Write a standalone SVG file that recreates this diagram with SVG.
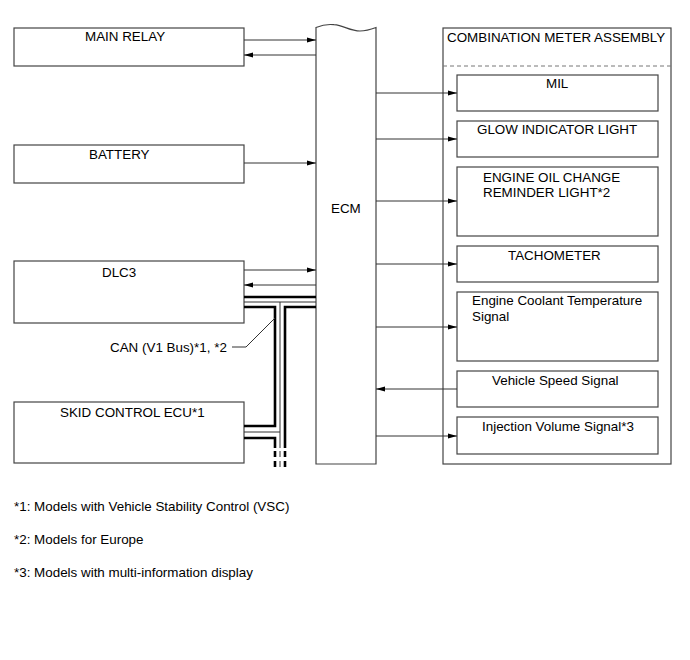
<svg xmlns="http://www.w3.org/2000/svg" width="690" height="660" viewBox="0 0 690 660">
<defs>
<style>
.box{fill:#fff;stroke:#444;stroke-width:1.2}
.t{font-family:"Liberation Sans",Arial,sans-serif;font-size:13.4px;fill:#000}
.ln{stroke:#333;stroke-width:1;fill:none}
.thick{stroke:#000;stroke-width:2.6;fill:none}
.thin{stroke:#333;stroke-width:1;fill:none}
</style>
<marker id="ah" markerUnits="userSpaceOnUse" markerWidth="9" markerHeight="6" refX="9" refY="3" orient="auto">
<path d="M0,0.5 L9,3 L0,5.5 z" fill="#000"/>
</marker>
</defs>
<rect width="690" height="660" fill="#fff"/>

<g id="main-relay"><rect class="box" x="14" y="28" width="230" height="38"/><text class="t" x="85" y="41">MAIN RELAY</text></g>
<g id="battery"><rect class="box" x="14" y="145" width="230" height="38"/><text class="t" x="89" y="159">BATTERY</text></g>
<g id="dlc3"><rect class="box" x="14" y="261" width="230" height="62"/><text class="t" x="102" y="277">DLC3</text></g>
<g id="skid"><rect class="box" x="14" y="402" width="230" height="61"/><text class="t" x="60" y="417">SKID CONTROL ECU*1</text></g>

<g id="ecm"><path class="box" d="M316,27.5 C322,25 328,24 334,24.7 C344,25.5 350,31 360,31 C366,31 372,29 376,27.5 V464 H316 Z"/><text class="t" x="331" y="213">ECM</text></g>

<g id="combination-meter">
<rect class="box" x="443" y="28" width="228" height="436"/>
<text class="t" x="447" y="42">COMBINATION METER ASSEMBLY</text>
<line x1="443" y1="66" x2="671" y2="66" stroke="#777" stroke-width="1" stroke-dasharray="4,3"/>
</g>
<g id="mil"><rect class="box" x="457" y="75" width="201" height="36"/><text class="t" x="546" y="88">MIL</text></g>
<g id="glow"><rect class="box" x="457" y="121" width="201" height="36"/><text class="t" x="477" y="134">GLOW INDICATOR LIGHT</text></g>
<g id="oil"><rect class="box" x="457" y="167" width="201" height="69"/><text class="t" x="483" y="182">ENGINE OIL CHANGE</text><text class="t" x="483" y="197">REMINDER LIGHT*2</text></g>
<g id="tacho"><rect class="box" x="457" y="246" width="201" height="36"/><text class="t" x="508" y="260">TACHOMETER</text></g>
<g id="coolant"><rect class="box" x="457" y="292" width="201" height="69"/><text class="t" x="472" y="305">Engine Coolant Temperature</text><text class="t" x="472" y="321">Signal</text></g>
<g id="speed"><rect class="box" x="457" y="371" width="201" height="36"/><text class="t" x="492" y="385">Vehicle Speed Signal</text></g>
<g id="injection"><rect class="box" x="457" y="417" width="201" height="37"/><text class="t" x="482" y="431">Injection Volume Signal*3</text></g>

<g id="connectors">
<line class="ln" x1="244" y1="40" x2="316" y2="40" marker-end="url(#ah)"/>
<line class="ln" x1="316" y1="55" x2="244" y2="55" marker-end="url(#ah)"/>
<line class="ln" x1="244" y1="163" x2="316" y2="163" marker-end="url(#ah)"/>
<line class="ln" x1="244" y1="270" x2="316" y2="270" marker-end="url(#ah)"/>
<line class="ln" x1="316" y1="285" x2="244" y2="285" marker-end="url(#ah)"/>
<line class="ln" x1="376" y1="93" x2="457" y2="93" marker-end="url(#ah)"/>
<line class="ln" x1="376" y1="139" x2="457" y2="139" marker-end="url(#ah)"/>
<line class="ln" x1="376" y1="201" x2="457" y2="201" marker-end="url(#ah)"/>
<line class="ln" x1="376" y1="264" x2="457" y2="264" marker-end="url(#ah)"/>
<line class="ln" x1="376" y1="327" x2="457" y2="327" marker-end="url(#ah)"/>
<line class="ln" x1="457" y1="389" x2="376" y2="389" marker-end="url(#ah)"/>
<line class="ln" x1="376" y1="436" x2="457" y2="436" marker-end="url(#ah)"/>

<g id="can-bus">
<line class="thick" x1="244" y1="297" x2="316" y2="297"/>
<line class="thin" x1="244" y1="302" x2="316" y2="302"/>
<path class="thin" d="M280,302 V448"/>
<path class="thick" d="M244,307 H275 V426 H244"/>
<path class="thick" d="M316,307 H285 V448"/>
<line class="thin" x1="244" y1="432" x2="280" y2="432"/>
<path class="thick" d="M244,438 H275 V448"/>
<g stroke-dasharray="6,4">
<line class="thick" x1="275" y1="451" x2="275" y2="467"/>
<line class="thin" x1="280" y1="451" x2="280" y2="467"/>
<line class="thick" x1="285" y1="451" x2="285" y2="467"/>
</g>
</g>
<polyline class="ln" points="232,347 246,347 275,318"/>
</g>
<text class="t" x="110" y="352">CAN (V1 Bus)*1, *2</text>

<g id="footnotes">
<text class="t" x="14" y="511">*1: Models with Vehicle Stability Control (VSC)</text>
<text class="t" x="14" y="544">*2: Models for Europe</text>
<text class="t" x="14" y="577">*3: Models with multi-information display</text>
</g>
</svg>
